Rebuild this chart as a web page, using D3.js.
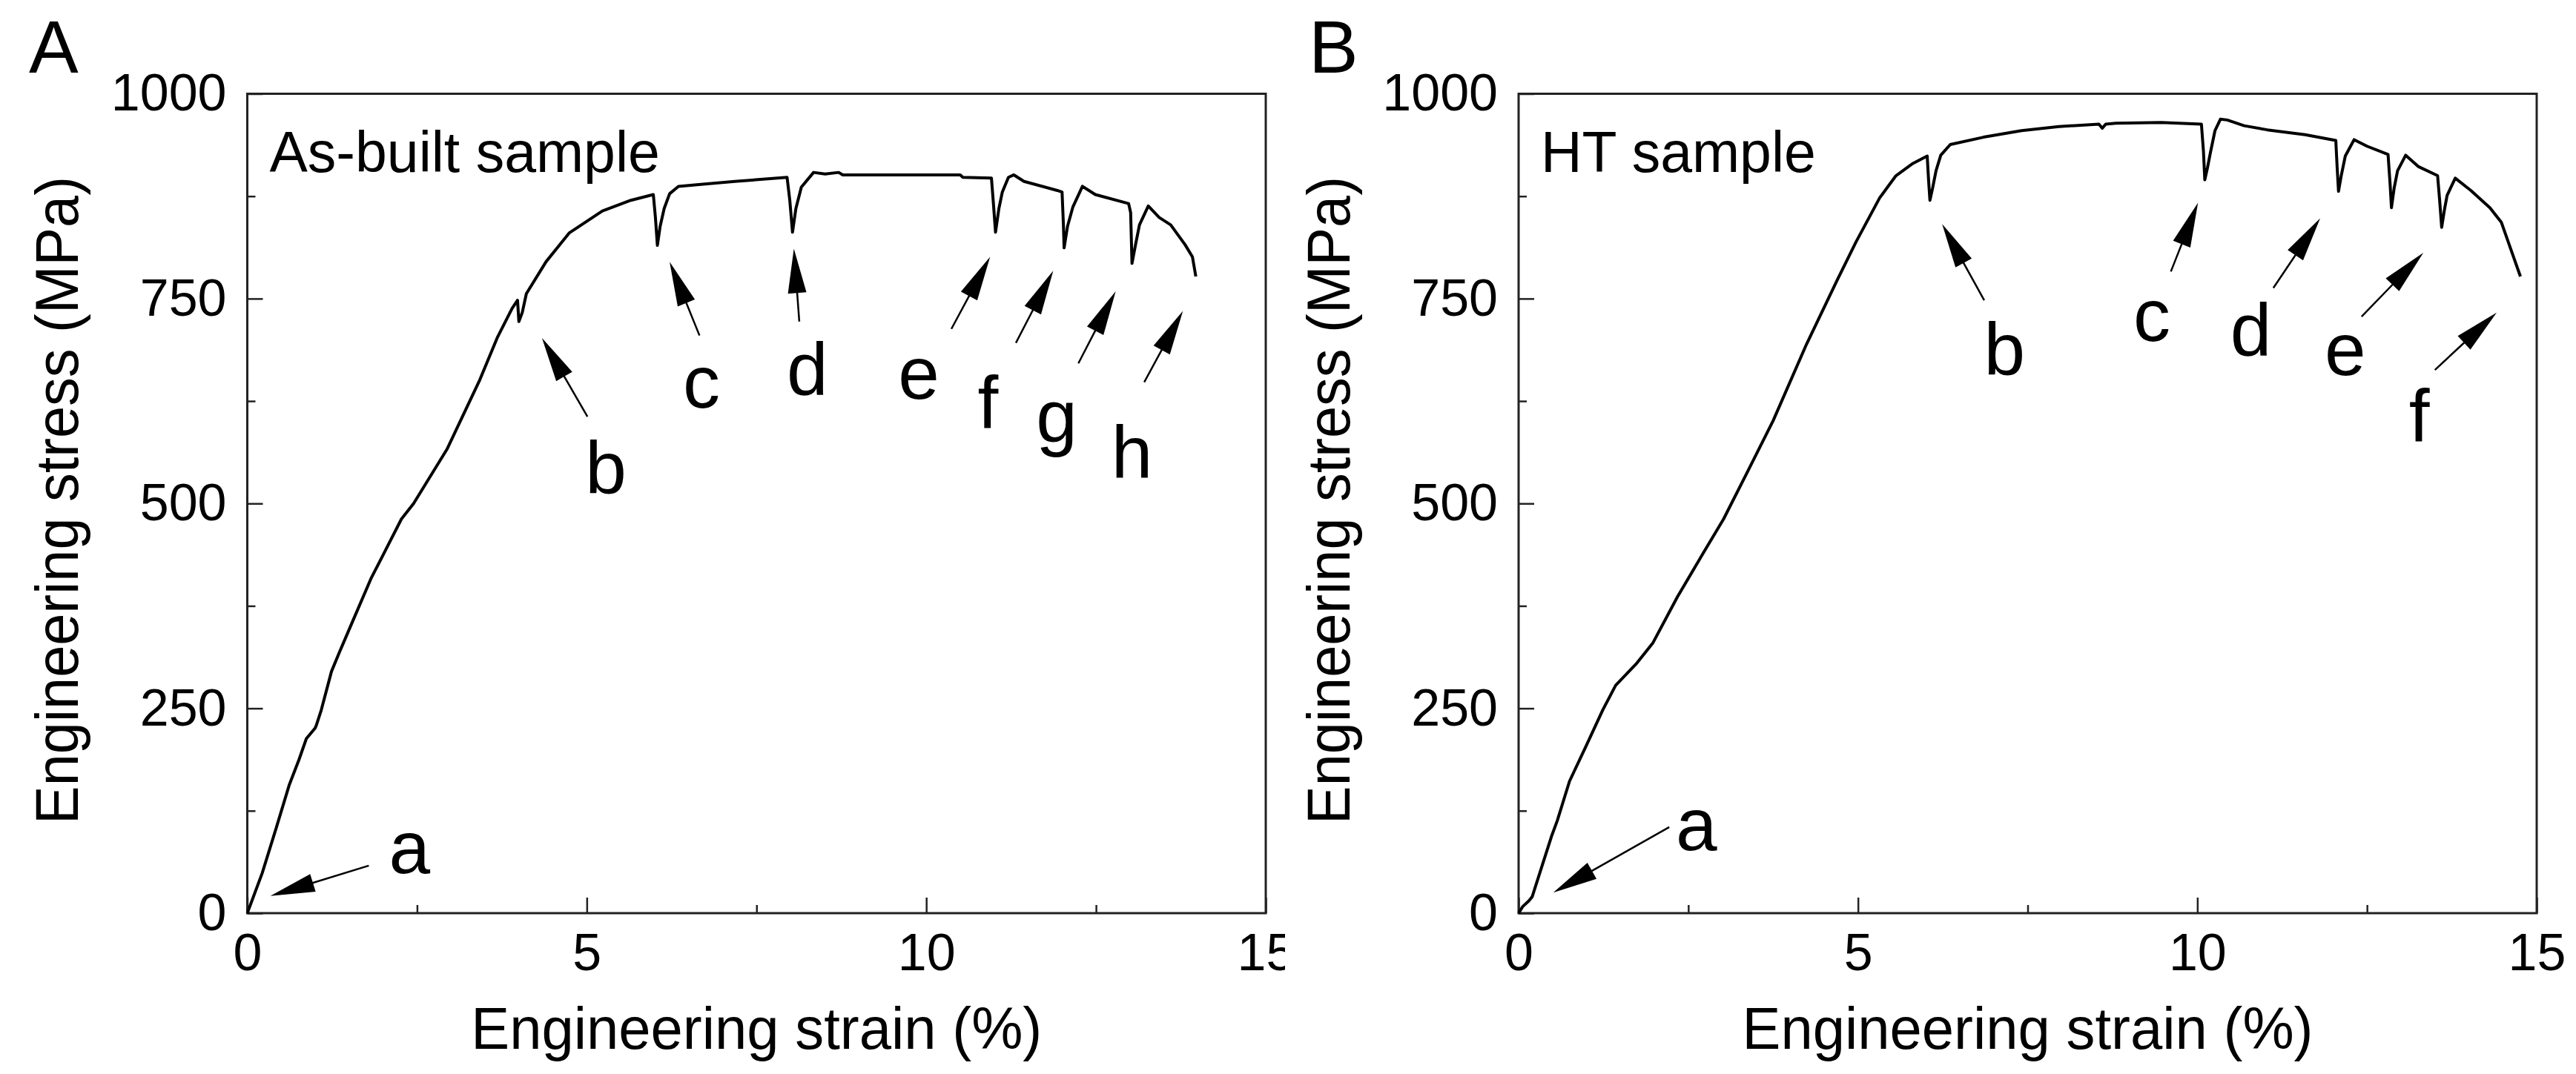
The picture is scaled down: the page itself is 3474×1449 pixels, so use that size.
<!DOCTYPE html>
<html>
<head>
<meta charset="utf-8">
<script src="https://cdn.jsdelivr.net/npm/d3@7"></script>
<style>
  html, body { margin: 0; padding: 0; background: #fff; }
  svg { display: block; }
  text { font-family: "Liberation Sans", Arial, sans-serif; fill: #000; }
</style>
</head>
<body>
<svg id="chart" width="3474" height="1449"></svg>
<script>
// ---------- data ----------
const xTicks = [0, 5, 10, 15];
const xMinorTicks = [2.5, 7.5, 12.5];
const yTicks = [0, 250, 500, 750, 1000];
const yMinorTicks = [125, 375, 625, 875];

const panelLabels = ["A", "B"];
const sampleLabels = ["As-built sample", "HT sample"];
const xTitle = "Engineering strain (%)";
const yTitle = "Engineering stress (MPa)";

// strain (%), stress (MPa)
const curveAsBuilt = [
  [0,0],[0.22,49],[0.43,105],[0.62,157],[0.76,187],[0.87,213],[1.0,226],[1.02,230],[1.09,248],
  [1.24,295],[1.35,317],[1.53,352],[1.82,408],[2.03,442],[2.27,481],[2.45,500],[2.94,566],
  [3.42,650],[3.68,702],[3.90,738],[3.98,748],[4.0,722],[4.05,733],[4.11,756],[4.40,795],
  [4.74,830],[5.23,857],[5.65,870],[5.98,877],[6.01,850],[6.04,815],[6.08,838],[6.14,860],
  [6.22,878],[6.35,887],[6.62,889],[7.18,893],[7.95,898],[7.99,870],[8.03,831],[8.08,860],
  [8.16,886],[8.34,904],[8.51,902],[8.71,904],[8.77,901],[10.50,901],[10.54,898],[10.96,897],
  [10.99,865],[11.02,831],[11.07,860],[11.12,880],[11.21,898],[11.29,901],[11.44,893],[11.93,882],
  [12.0,880],[12.02,840],[12.03,812],[12.08,838],[12.16,862],[12.30,887],[12.49,877],[12.98,866],
  [13.01,855],[13.03,793],[13.08,815],[13.14,840],[13.27,863],[13.43,849],[13.60,840],
  [13.81,816],[13.92,801],[13.97,777]
];
const curveHT = [
  [0,0],[0.06,8],[0.15,15],[0.2,20],[0.35,59],[0.49,95],[0.57,113],[0.75,161],[1.0,205],
  [1.24,248],[1.43,278],[1.73,304],[1.98,330],[2.34,386],[2.71,438],[3.02,481],[3.38,540],
  [3.75,601],[4.24,694],[4.69,772],[4.97,819],[5.32,873],[5.56,900],[5.81,915],[6.02,924],
  [6.04,895],[6.06,870],[6.10,885],[6.15,906],[6.22,925],[6.36,938],[6.85,947],[7.41,955],
  [7.96,960],[8.55,963],[8.6,958],[8.65,963],[8.80,964],[9.47,965],[10.06,963],[10.09,930],
  [10.11,895],[10.15,910],[10.19,927],[10.26,955],[10.34,969],[10.44,968],[10.69,961],
  [11.03,956],[11.59,950],[12.04,943],[12.06,910],[12.08,881],[12.12,900],[12.18,924],
  [12.31,944],[12.50,936],[12.81,926],[12.84,890],[12.86,861],[12.90,885],[12.95,906],
  [13.07,925],[13.26,911],[13.54,900],[13.57,870],[13.60,837],[13.64,858],[13.68,876],
  [13.80,897],[14.03,882],[14.31,861],[14.48,843],[14.62,810],[14.76,777]
];

// annotations: label, arrow tail [strain, stress], arrow tip, label position (centre x, baseline)
const annotAsBuilt = [
  { t: "a", tail: [1.79, 58],  tip: [0.34, 21],  lab: [2.39, 49] },
  { t: "b", tail: [5.01, 606], tip: [4.34, 702], lab: [5.28, 512] },
  { t: "c", tail: [6.66, 705], tip: [6.22, 795], lab: [6.69, 617] },
  { t: "d", tail: [8.13, 722], tip: [8.05, 811], lab: [8.25, 632] },
  { t: "e", tail: [10.37, 713], tip: [10.94, 801], lab: [9.89, 628] },
  { t: "f", tail: [11.32, 696], tip: [11.87, 784], lab: [10.91, 592] },
  { t: "g", tail: [12.24, 671], tip: [12.79, 759], lab: [11.92, 575] },
  { t: "h", tail: [13.21, 648], tip: [13.78, 735], lab: [13.03, 531] }
];
const annotHT = [
  { t: "a", tail: [2.22, 105], tip: [0.51, 25],  lab: [2.62, 77] },
  { t: "b", tail: [6.86, 748], tip: [6.24, 841], lab: [7.16, 657] },
  { t: "c", tail: [9.61, 783], tip: [10.01, 867], lab: [9.33, 698] },
  { t: "d", tail: [11.12, 763], tip: [11.81, 848], lab: [10.79, 680] },
  { t: "e", tail: [12.42, 728], tip: [13.33, 806], lab: [12.18, 657] },
  { t: "f", tail: [13.50, 663], tip: [14.41, 733], lab: [13.27, 575] }
];

// ---------- layout ----------
const svg = d3.select("#chart");
const plotTop = 126.5, plotBottom = 1232;
const panels = [
  { left: 333.5, right: 1707, curve: curveAsBuilt, annot: annotAsBuilt, labX: 39 },
  { left: 2048, right: 3421, curve: curveHT, annot: annotHT, labX: 1765 }
];

const defs = svg.append("defs");

panels.forEach((p, i) => {
  defs.append("clipPath").attr("id", "clip" + i)
    .append("rect").attr("x", i === 0 ? 0 : 1733).attr("y", 0)
    .attr("width", i === 0 ? 1733 : 3474 - 1733).attr("height", 1449);

  const g = svg.append("g").attr("clip-path", `url(#clip${i})`);
  const x = d3.scaleLinear().domain([0, 15]).range([p.left, p.right]);
  const y = d3.scaleLinear().domain([0, 1000]).range([plotBottom, plotTop]);

  // minor ticks
  g.append("g").attr("transform", `translate(0,${plotBottom})`)
    .call(d3.axisBottom(x).tickValues(xMinorTicks).tickSize(-11).tickFormat(""))
    .call(s => s.select(".domain").remove())
    .call(s => s.selectAll("line").attr("stroke", "#222").attr("stroke-width", 2.5));
  g.append("g").attr("transform", `translate(${p.left},0)`)
    .call(d3.axisLeft(y).tickValues(yMinorTicks).tickSize(-11).tickFormat(""))
    .call(s => s.select(".domain").remove())
    .call(s => s.selectAll("line").attr("stroke", "#222").attr("stroke-width", 2.5));

  // major ticks + labels
  g.append("g").attr("transform", `translate(0,${plotBottom})`)
    .call(d3.axisBottom(x).tickValues(xTicks).tickSize(-21).tickPadding(27).tickFormat(d3.format("d")))
    .call(s => s.select(".domain").remove())
    .call(s => s.selectAll("line").attr("stroke", "#222").attr("stroke-width", 2.5))
    .call(s => s.selectAll("text").attr("font-size", 70).attr("font-family", "Liberation Sans, Arial, sans-serif").attr("fill", "#000"));
  g.append("g").attr("transform", `translate(${p.left},0)`)
    .call(d3.axisLeft(y).tickValues(yTicks).tickSize(-21).tickPadding(28).tickFormat(d3.format("d")))
    .call(s => s.select(".domain").remove())
    .call(s => s.selectAll("line").attr("stroke", "#222").attr("stroke-width", 2.5))
    .call(s => s.selectAll("text").attr("font-size", 70).attr("font-family", "Liberation Sans, Arial, sans-serif").attr("fill", "#000"));

  // frame
  g.append("rect").attr("x", x(0)).attr("y", y(1000))
    .attr("width", x(15) - x(0)).attr("height", y(0) - y(1000))
    .attr("fill", "none").attr("stroke", "#222").attr("stroke-width", 3);

  // curve
  g.append("path").datum(p.curve)
    .attr("d", d3.line().x(d => x(d[0])).y(d => y(d[1])))
    .attr("fill", "none").attr("stroke", "#000").attr("stroke-width", 4)
    .attr("stroke-linejoin", "round");

  // annotations (arrows + letters)
  p.annot.forEach(a => {
    const x1 = x(a.tail[0]), y1 = y(a.tail[1]), x2 = x(a.tip[0]), y2 = y(a.tip[1]);
    const dx = x2 - x1, dy = y2 - y1, L = Math.hypot(dx, dy);
    const ux = dx / L, uy = dy / L;
    const hl = 60, hw = 12.5;
    const bx = x2 - ux * hl, by = y2 - uy * hl;
    g.append("line").attr("x1", x1).attr("y1", y1).attr("x2", bx + ux * 4).attr("y2", by + uy * 4)
      .attr("stroke", "#000").attr("stroke-width", 2.5);
    g.append("path")
      .attr("d", `M${x2},${y2}L${bx - uy * hw},${by + ux * hw}L${bx + uy * hw},${by - ux * hw}Z`)
      .attr("fill", "#000");
    g.append("text").attr("x", x(a.lab[0])).attr("y", y(a.lab[1]))
      .attr("text-anchor", "middle").attr("font-size", 100).text(a.t);
  });

  // sample label
  g.append("text").attr("x", p.left + 30).attr("y", 232)
    .attr("font-size", 77).text(sampleLabels[i]);

  // axis titles
  g.append("text").attr("x", (p.left + p.right) / 2).attr("y", 1415)
    .attr("text-anchor", "middle").attr("font-size", 80)
    .attr("textLength", 770).attr("lengthAdjust", "spacingAndGlyphs").text(xTitle);
  g.append("text")
    .attr("transform", `translate(${p.left - 228.5},675) rotate(-90)`)
    .attr("text-anchor", "middle").attr("font-size", 81)
    .attr("textLength", 874).attr("lengthAdjust", "spacingAndGlyphs").text(yTitle);

  // panel letter
  g.append("text").attr("x", p.labX).attr("y", 98).attr("font-size", 100).text(panelLabels[i]);
});
</script>
</body>
</html>
